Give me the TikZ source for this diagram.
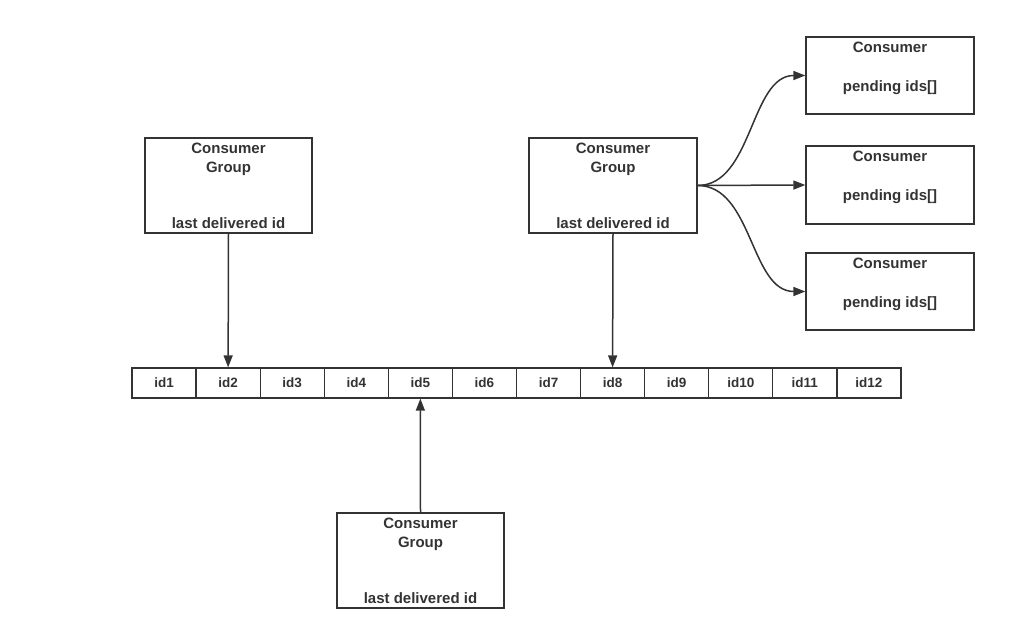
\documentclass[tikz,border=0pt]{standalone}
\usepackage{fontspec}
\setmainfont{Liberation Sans}
\usetikzlibrary{arrows.meta}
\definecolor{ink}{HTML}{333333}
\tikzset{
  box/.style={draw=ink, line width=1.3pt, rectangle, inner sep=0pt},
  cell/.style={draw=ink, line width=1.3pt, rectangle, inner sep=0pt, minimum width=64.08pt, minimum height=30pt, font=\bfseries\fontsize{13.5}{15}\selectfont, text=ink},
  txt/.style={font=\bfseries\fontsize{15}{17}\selectfont, text=ink, inner sep=0pt, anchor=base},
  arr/.style={draw=ink, line width=1.5pt, -{Triangle[length=12pt,width=9pt]}}
}
\begin{document}
\begin{tikzpicture}[x=1pt,y=-1pt]
\useasboundingbox (0,0) rectangle (1029,628);
% consumer groups
\node[box, minimum width=167pt, minimum height=95pt] (cg1) at (228.5,185.5) {};
\node[box, minimum width=168pt, minimum height=95pt] (cg2) at (613,185.5) {};
\node[box, minimum width=167pt, minimum height=95pt] (cg3) at (420.5,560.5) {};
\foreach \g/\x/\y in {cg1/228.5/138, cg2/613/138, cg3/420.5/513}{
  \node[txt] (\g a) at (\x,\y+15.5) {Consumer};
  \node[txt] (\g b) at (\x,\y+34.5) {Group};
  \node[txt] (\g c) at (\x,\y+90.5) {last delivered id};
}
% consumers
\node[box, minimum width=168pt, minimum height=77pt] (k1) at (890,75.5) {};
\node[box, minimum width=168pt, minimum height=78pt] (k2) at (890,185) {};
\node[box, minimum width=168pt, minimum height=77pt] (k3) at (890,291.5) {};
\foreach \k/\y in {k1/37, k2/146, k3/253}{
  \node[txt] (\k a) at (890,\y+15.5) {Consumer};
  \node[txt] (\k b) at (890,\y+54.5) {pending ids[]};
}
% stream cells
\foreach \i in {1,...,12}{
  \node[cell] (c\i) at ({132+64.08*(\i-0.5)},383) {id\i};
}
% arrows
\draw[arr] (cg1.south) -- (c2.north);
\draw[arr] (cg2.south) -- (c8.north);
\draw[arr] (cg3.north) -- (c5.south);
\draw[arr] (cg2.east) .. controls +(55,0) and +(-55,0) .. (k1.west);
\draw[arr] (cg2.east) -- (k2.west);
\draw[arr] (cg2.east) .. controls +(55,0) and +(-55,0) .. (k3.west);
\end{tikzpicture}
\end{document}
